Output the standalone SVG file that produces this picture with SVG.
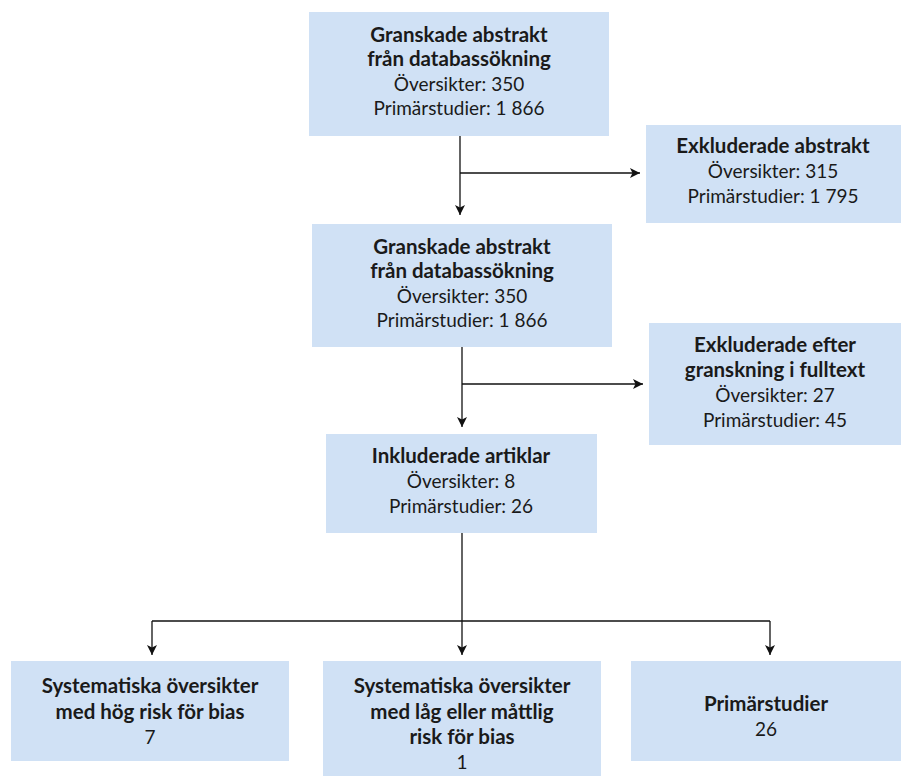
<svg xmlns="http://www.w3.org/2000/svg" width="903" height="776" viewBox="0 0 903 776">
<defs>
<marker id="ah" viewBox="0 0 10 10" refX="10" refY="5" markerWidth="10" markerHeight="10" markerUnits="userSpaceOnUse" orient="auto">
<path d="M0,0 L10,5 L0,10 L2.5,5 Z" fill="#111"/>
</marker>
</defs>
<style>
.box{fill:#d0e1f5}
text{font-family:Lato,"Open Sans","Liberation Sans",sans-serif;font-size:19px;fill:#1a1a1a;text-anchor:middle}
.b{font-weight:bold;font-size:20.5px}
.c{fill:none;stroke:#111;stroke-width:1.3}
</style>
<rect width="903" height="776" fill="#fff"/>
<g id="n1">
<rect class="box" x="309" y="12" width="300" height="124"/>
<text class="b" x="459" y="42">Granskade abstrakt</text>
<text class="b" x="459" y="66">från databassökning</text>
<text x="459" y="91">Översikter: 350</text>
<text x="459" y="115">Primärstudier: 1 866</text>
</g>
<g id="n2">
<rect class="box" x="646" y="125" width="255" height="98"/>
<text class="b" x="773" y="153">Exkluderade abstrakt</text>
<text x="773" y="178">Översikter: 315</text>
<text x="773" y="203">Primärstudier: 1 795</text>
</g>
<g id="n3">
<rect class="box" x="312" y="224" width="300" height="123"/>
<text class="b" x="462" y="254">Granskade abstrakt</text>
<text class="b" x="462" y="278">från databassökning</text>
<text x="462" y="303">Översikter: 350</text>
<text x="462" y="327">Primärstudier: 1 866</text>
</g>
<g id="n4">
<rect class="box" x="649" y="323" width="252" height="122"/>
<text class="b" x="775" y="352">Exkluderade efter</text>
<text class="b" x="775" y="377">granskning i fulltext</text>
<text x="775" y="402">Översikter: 27</text>
<text x="775" y="427">Primärstudier: 45</text>
</g>
<g id="n5">
<rect class="box" x="326" y="434" width="271" height="99"/>
<text class="b" x="461" y="463">Inkluderade artiklar</text>
<text x="461" y="488">Översikter: 8</text>
<text x="461" y="513">Primärstudier: 26</text>
</g>
<g id="n6">
<rect class="box" x="11" y="661" width="278" height="100"/>
<text class="b" x="150" y="693">Systematiska översikter</text>
<text class="b" x="150" y="719">med hög risk för bias</text>
<text x="150" y="744">7</text>
</g>
<g id="n7">
<rect class="box" x="323" y="661" width="278" height="115"/>
<text class="b" x="462" y="693">Systematiska översikter</text>
<text class="b" x="462" y="719">med låg eller måttlig</text>
<text class="b" x="462" y="744">risk för bias</text>
<text x="462" y="769">1</text>
</g>
<g id="n8">
<rect class="box" x="631" y="661" width="270" height="100"/>
<text class="b" x="766" y="711">Primärstudier</text>
<text x="766" y="736">26</text>
</g>
<g id="connectors">
<path class="c" d="M460,136 V215" marker-end="url(#ah)"/>
<path class="c" d="M460,173 H640" marker-end="url(#ah)"/>
<path class="c" d="M462,347 V427" marker-end="url(#ah)"/>
<path class="c" d="M462,384 H643" marker-end="url(#ah)"/>
<path class="c" d="M462,533 V655" marker-end="url(#ah)"/>
<path class="c" d="M152,621 H770"/>
<path class="c" d="M152,621 V655" marker-end="url(#ah)"/>
<path class="c" d="M770,621 V655" marker-end="url(#ah)"/>
</g>
</svg>
